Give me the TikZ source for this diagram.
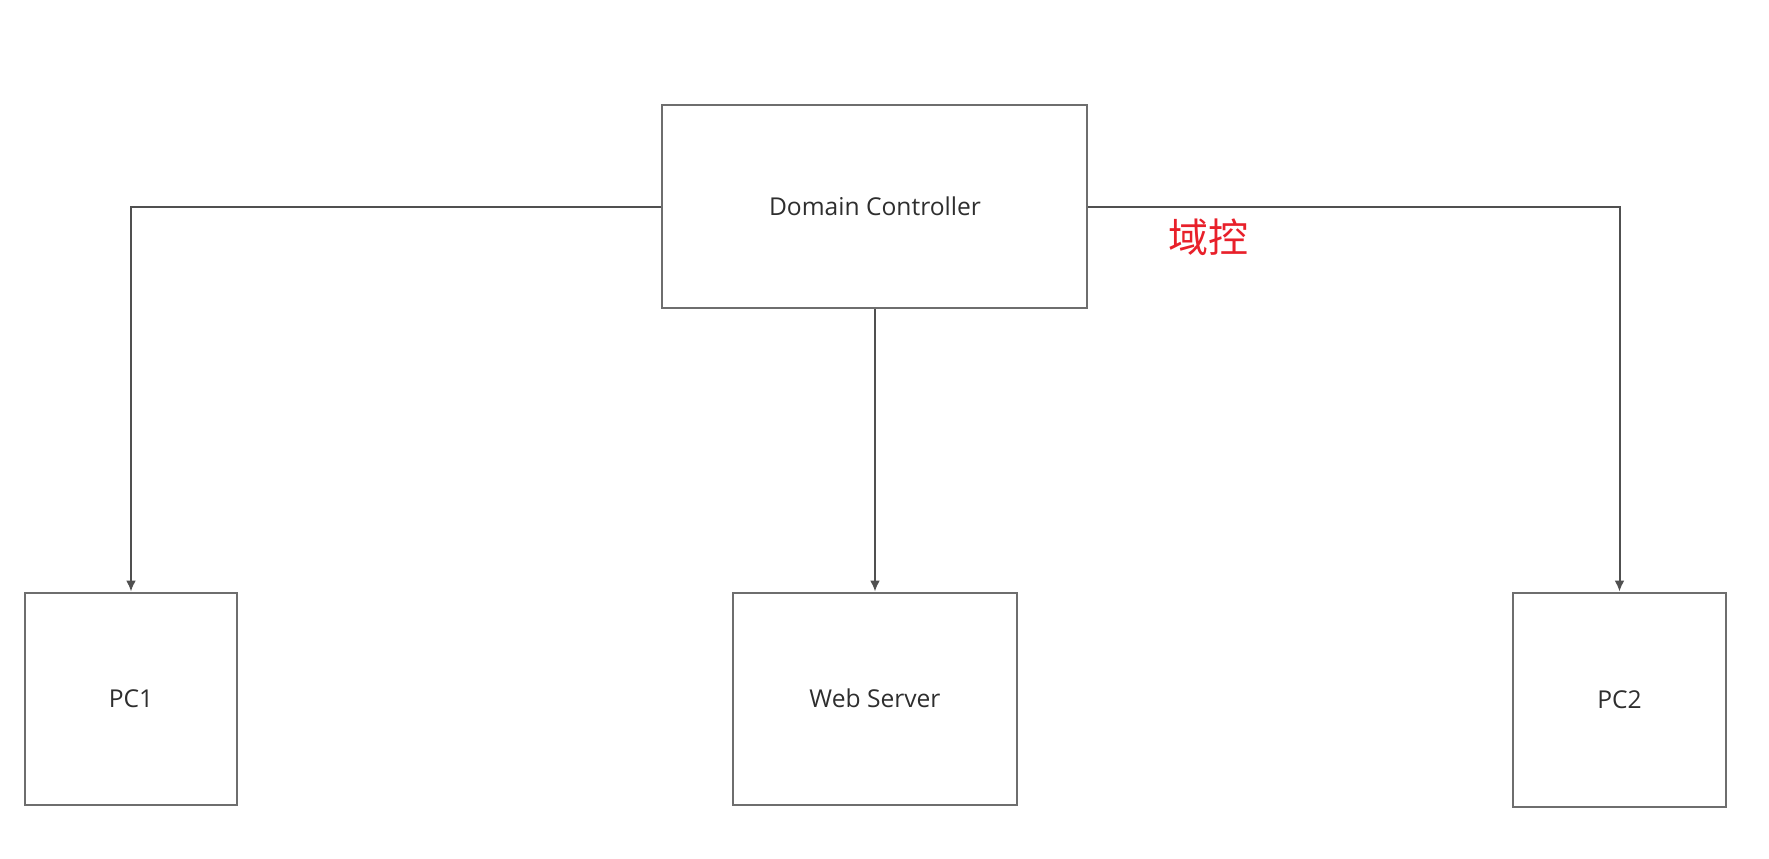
\documentclass[tikz,border=0pt]{standalone}
\usepackage{fontspec}
\setmainfont{Open Sans}
\newfontfamily\cjkfont{Noto Sans CJK SC}
\usetikzlibrary{positioning, arrows.meta}
\definecolor{boxline}{RGB}{110,110,110}
\definecolor{wireline}{RGB}{80,80,80}
\definecolor{notered}{RGB}{232,32,42}
\tikzset{
	host/.style={draw=boxline, rectangle, line width=1pt, inner sep=0pt, text=black!82, font=\fontsize{12.3}{14}\selectfont},
	% red remark beside the controller
	remark/.style={text=notered, inner sep=0pt, font=\cjkfont\fontsize{20}{22}\selectfont},
}

\begin{document}
\begin{tikzpicture}[node distance=246pt]
	\useasboundingbox (-437.5pt,103.25pt) rectangle (447pt,-325.75pt);
	\node (dc) [host, minimum width=212.5pt, minimum height=101.5pt] {Domain Controller};
	
	\node (ws) [host, below of=dc, minimum width=142pt, minimum height=106pt] {Web Server};
	\node (pc1) [host, below of=dc, xshift=-372pt, minimum width=106pt, minimum height=106pt] {PC1};
	\node (pc2) [host, below of=dc, xshift=372.25pt, yshift=-0.5pt, minimum width=106.5pt, minimum height=107pt] {PC2};
	
	\node (note) [remark] at (167pt,-15.5pt) {域控};
	
	\begin{scope}[draw=wireline, line width=1pt, ->, >={Latex[length=5.5pt,width=5pt]}]
		\draw (dc.west) -| (pc1);
		\draw (dc) -- (ws);
		\draw (dc.east) -| (pc2);
	\end{scope}
\end{tikzpicture}
\end{document}
